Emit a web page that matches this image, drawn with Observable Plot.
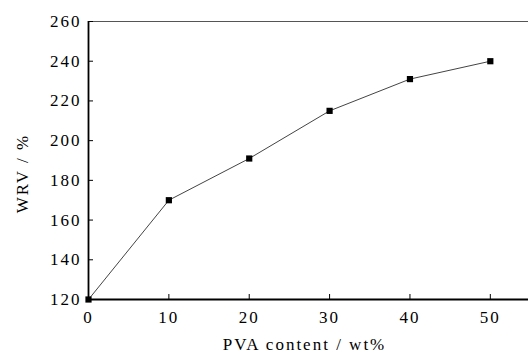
<!DOCTYPE html>
<html>
<head>
<meta charset="utf-8">
<script src="https://cdn.jsdelivr.net/npm/d3@7"></script>
<script src="https://cdn.jsdelivr.net/npm/@observablehq/plot@0.6"></script>
<style>
  html, body { margin: 0; padding: 0; background: #fff; }
  svg { display: block; }
</style>
</head>
<body>
<div id="chart"></div>
<script>
const pvaContent = [0, 10, 20, 30, 40, 50];
const wrv = [120, 170, 191, 215, 231, 240];
const xTicks = [0, 10, 20, 30, 40, 50];
const yTicks = [120, 140, 160, 180, 200, 220, 240, 260];
const xLabel = ["PVA content / wt%"];
const yLabel = ["WRV / %"];

const data = pvaContent.map((x, i) => ({x, y: wrv[i]}));

const chart = Plot.plot({
  width: 528,
  height: 356,
  marginLeft: 88,
  marginRight: 0,
  marginTop: 21,
  marginBottom: 57,
  style: {fontFamily: "Liberation Serif", fontSize: "17px", letterSpacing: "2px", color: "#000", background: "#fff"},
  x: {domain: [0, 55], range: [88, 530]},
  y: {domain: [120, 260], range: [299, 21]},
  marks: [
    Plot.ruleY([260], {stroke: "#555", strokeWidth: 1.2}),
    Plot.ruleY([120], {stroke: "#000", strokeWidth: 1.8}),
    Plot.ruleX([0], {stroke: "#000", strokeWidth: 1.8}),
    Plot.axisX({ticks: xTicks, tickSize: -5, tickPadding: 16, tickFormat: d => d,
      label: null, fontSize: 17}),
    Plot.axisY({ticks: yTicks, tickSize: -5, tickPadding: 12, tickFormat: d => d,
      label: null, fontSize: 17}),
    Plot.text(xLabel, {text: d => d, frameAnchor: "bottom", textAnchor: "middle", lineAnchor: "middle",
      dx: -4, dy: 45, fontSize: 17, fill: "#000"}),
    Plot.text(yLabel, {text: d => d, frameAnchor: "left", textAnchor: "middle", rotate: -90, lineAnchor: "middle",
      dx: -66, dy: 13, fontSize: 17, fill: "#000", letterSpacing: "2.5px"}),
    Plot.line(data, {x: "x", y: "y", stroke: "#444", strokeWidth: 1}),
    Plot.dot(data, {x: "x", y: "y", symbol: "square", r: 3.5, fill: "#000", stroke: "none"})
  ]
});
document.getElementById("chart").appendChild(chart);
</script>
</body>
</html>
